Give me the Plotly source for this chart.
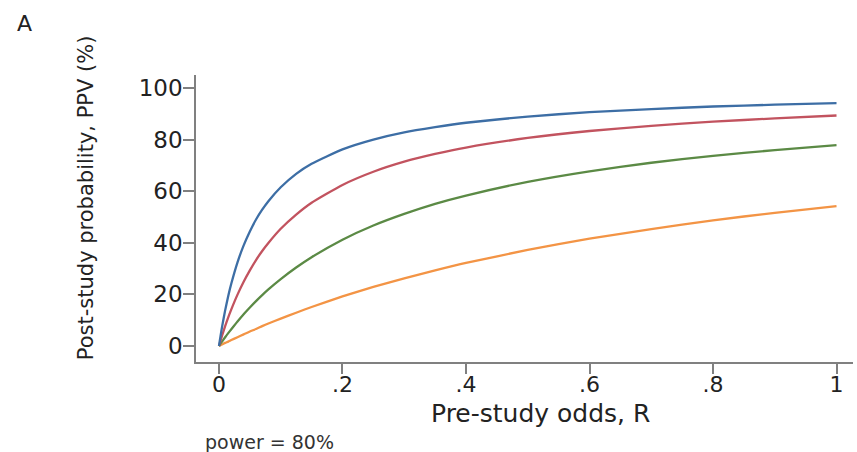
import plotly.graph_objects as go

# Pre-study odds R (x values)
R = [0, 0.0025, 0.005, 0.01, 0.015, 0.02, 0.03, 0.04, 0.05, 0.06, 0.07, 0.08,
     0.1, 0.125, 0.15, 0.2, 0.25, 0.3, 0.35, 0.4, 0.5, 0.6, 0.7, 0.8, 0.9, 1.0]

# PPV (%)
ppv_blue = [0, 3.8, 7.4, 13.8, 19.4, 24.2, 32.4, 39.0, 44.4, 49.0, 52.8, 56.1,
            61.5, 66.7, 70.6, 76.2, 80.0, 82.8, 84.8, 86.5, 88.9, 90.6, 91.8,
            92.8, 93.5, 94.1]
ppv_red = [0, 2.0, 4.0, 7.7, 11.1, 14.2, 19.9, 24.9, 29.3, 33.3, 36.8, 39.9,
           45.4, 50.9, 55.5, 62.4, 67.5, 71.4, 74.4, 76.9, 80.6, 83.3, 85.3,
           86.9, 88.2, 89.3]
ppv_green = [0, 0.9, 1.7, 3.4, 5.0, 6.5, 9.5, 12.3, 14.9, 17.4, 19.7, 21.9,
             25.9, 30.4, 34.4, 41.2, 46.7, 51.2, 55.1, 58.3, 63.6, 67.7, 71.0,
             73.7, 75.9, 77.8]
ppv_orange = [0, 0.3, 0.6, 1.2, 1.7, 2.3, 3.4, 4.5, 5.6, 6.6, 7.7, 8.7,
              10.6, 12.9, 15.1, 19.2, 22.9, 26.2, 29.3, 32.2, 37.2, 41.6, 45.3,
              48.7, 51.6, 54.2]

x_ticks = [0, 0.2, 0.4, 0.6, 0.8, 1.0]
x_tick_labels = ["0", ".2", ".4", ".6", ".8", "1"]
y_ticks = [0, 20, 40, 60, 80, 100]
y_tick_labels = ["0", "20", "40", "60", "80", "100"]

series = [
    (ppv_orange, "#f39445"),
    (ppv_green, "#5b8a45"),
    (ppv_red, "#c2535f"),
    (ppv_blue, "#3d6ea5"),
]

FONT = "DejaVu Sans, Liberation Sans, Arial, sans-serif"
AXC = "#808080"
TXT = "#222222"

fig = go.Figure()
for ys, col in series:
    fig.add_trace(go.Scatter(x=R, y=ys, mode="lines",
                             line=dict(color=col, width=2.3, shape="spline",
                                       smoothing=0.5),
                             showlegend=False, hoverinfo="skip"))

fig.update_layout(
    width=857, height=452,
    margin=dict(l=196, r=4, t=75, b=90),
    paper_bgcolor="white", plot_bgcolor="white",
    font=dict(family=FONT, color=TXT),
    xaxis=dict(range=[-0.0372, 1.0267], tickmode="array", tickvals=x_ticks,
               ticktext=x_tick_labels, showgrid=False, zeroline=False,
               showline=True, linecolor=AXC, linewidth=1.6,
               ticks="outside", ticklen=10, tickwidth=1.6, tickcolor=AXC,
               ticklabelstandoff=-8,
               tickfont=dict(size=22, family=FONT, color=TXT)),
    yaxis=dict(range=[-6.2, 105.0], tickmode="array", tickvals=y_ticks,
               ticktext=y_tick_labels, showgrid=False, zeroline=False,
               showline=True, linecolor=AXC, linewidth=1.6,
               ticks="outside", ticklen=11, tickwidth=1.6, tickcolor=AXC,
               ticklabelstandoff=-4,
               tickfont=dict(size=23, family=FONT, color=TXT)),
    annotations=[
        dict(text="Pre-study odds, R", xref="paper", yref="paper",
             x=0.525, y=-0.178, xanchor="center", yanchor="middle",
             showarrow=False, font=dict(size=25, family=FONT, color=TXT)),
        dict(text="Post-study probability, PPV (%)", xref="paper", yref="paper",
             x=-0.168, y=0.573, xanchor="center", yanchor="middle", textangle=-90,
             showarrow=False, font=dict(size=21, family=FONT, color=TXT)),
        dict(text="A", xref="paper", yref="paper",
             x=-0.2615, y=1.178, xanchor="center", yanchor="middle",
             showarrow=False, font=dict(size=22, family=FONT, color=TXT)),
        dict(text="power = 80%", xref="paper", yref="paper",
             x=0.0107, y=-0.279, xanchor="left", yanchor="middle",
             showarrow=False, font=dict(size=19, family=FONT, color="#333333")),
    ],
)

fig.write_html("out.html", config={"displayModeBar": False},
               post_script="document.body.style.margin='0px';")
